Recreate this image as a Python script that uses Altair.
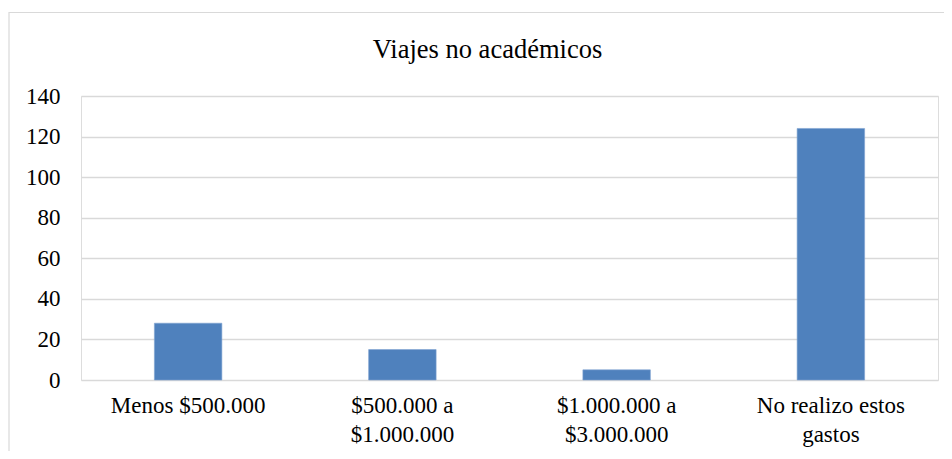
import altair as alt
import pandas as pd

categories = ["Menos $500.000", "$500.000 a|$1.000.000", "$1.000.000 a|$3.000.000", "No realizo estos|gastos"]
values = [28, 15, 5, 124]
y_ticks = [0, 20, 40, 60, 80, 100, 120, 140]
title_text = "Viajes no académicos"

df = pd.DataFrame({"cat": categories, "val": values})
frame_df = pd.DataFrame({"k": [0]})

FONT = "'Liberation Serif', 'Times New Roman', serif"
W, H = 857, 284

bars = alt.Chart(df).mark_bar(color="#4F81BD", stroke="#7FA3D1", strokeWidth=0.6).encode(
    x=alt.X("cat:N", sort=categories, title=None,
            scale=alt.Scale(paddingInner=0.685, paddingOuter=0.3425),
            axis=alt.Axis(labelExpr="split(datum.label, '|')", labelAngle=0,
                          labelFont=FONT, labelFontSize=23, labelColor="#000000",
                          labelLineHeight=29, labelPadding=14,
                          domain=False, ticks=False, grid=False)),
    y=alt.Y("val:Q", title=None,
            scale=alt.Scale(domain=[0, 140], nice=False),
            axis=alt.Axis(values=y_ticks, labelFont=FONT, labelFontSize=23,
                          labelColor="#000000", labelPadding=21,
                          domain=False, ticks=False, grid=True,
                          gridColor="#d9d9d9", gridWidth=1.5)),
)

frame = alt.Chart(frame_df).mark_rect(fill=None, stroke="#d9d9d9", strokeWidth=1.2, clip=False).encode(
    x=alt.value(-72), x2=alt.value(W + 40),
    y=alt.value(-83.5), y2=alt.value(H + 120),
)

title_mark = alt.Chart(frame_df).mark_text(
    text=title_text, font=FONT, fontSize=26.5, color="#000000",
    align="center", baseline="alphabetic", clip=False,
).encode(x=alt.value(W / 2 - 22), y=alt.value(-38))

chart = alt.layer(frame, bars, title_mark).properties(
    width=W, height=H,
    autosize=alt.AutoSizeParams(type="none"),
    padding={"left": 73, "top": 88, "right": 6, "bottom": 71},
).configure_view(stroke=None).configure(background="white")

chart.save("out.html", embed_options={"renderer": "svg", "actions": False})
